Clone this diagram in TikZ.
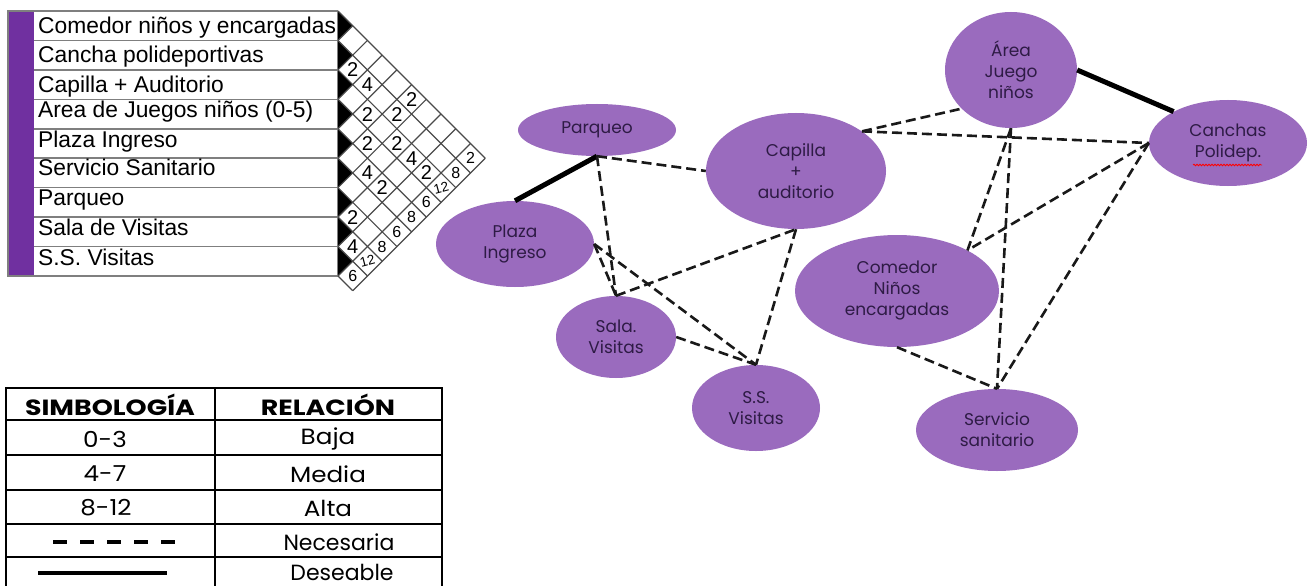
\documentclass[tikz,border=0pt]{standalone}
\usepackage{fontspec}
\setmainfont{Poppins}
\newfontfamily\arialf{Liberation Sans}
\usetikzlibrary{shapes.geometric,decorations.pathmorphing}
\definecolor{ellfill}{HTML}{9A6BBE}
\definecolor{elltext}{HTML}{2E1B45}
\definecolor{barpurple}{HTML}{7030A0}
\definecolor{gridgray}{HTML}{4A4A4A}
\definecolor{tabgray}{HTML}{7F7F7F}
\begin{document}
\begin{tikzpicture}[x=1bp,y=-1bp,
  area/.style={ellipse, fill=ellfill, draw=none, inner sep=0pt, align=center, text=elltext,
    font=\fontsize{17bp}{21bp}\selectfont},
  nec/.style={draw=black!90, line width=2.6bp, dash pattern=on 10bp off 5bp},
  des/.style={draw=black, line width=5bp},
  rowlabel/.style={anchor=base west, inner sep=0pt, font=\arialf\fontsize{22.8bp}{27bp}\selectfont},
  gridline/.style={draw=gridgray, line width=1.2bp},
  bignum/.style={inner sep=0pt, font=\arialf\fontsize{20bp}{20bp}\selectfont},
  smallnum/.style={inner sep=0pt, font=\arialf\fontsize{16bp}{16bp}\selectfont},
  tinynum/.style={inner sep=0pt, font=\arialf\fontsize{13.5bp}{13.5bp}\selectfont},
  tabline/.style={draw=black, line width=2bp},
  headtxt/.style={inner sep=0pt, font=\bfseries\fontsize{22bp}{24bp}\selectfont},
  celltxt/.style={inner sep=0pt, font=\fontsize{22bp}{24bp}\selectfont},
]
\useasboundingbox (0,0) rectangle (1309,586);
\fill[white] (0,0) rectangle (1309,586);

% ---------------- interaction matrix ----------------
\fill[white] (8,11) rectangle (338,276);
\fill[barpurple] (9,11) rectangle (34,276);
\foreach \yy in {40.4,69.9,99.3,128.8,158.2,187.6,217.1,246.5}
  \draw[draw=tabgray, line width=1.5bp] (34,\yy) -- (338,\yy);
\draw[draw=tabgray, line width=2bp] (338,11) -- (8,11) -- (8,276) -- (338,276);
\draw[draw=tabgray, line width=1.5bp] (338,11) -- (338,276);

\node[rowlabel] (r1) at (38,34) {Comedor niños y encargadas};
\node[rowlabel] (r2) at (38,63) {Cancha polideportivas};
\node[rowlabel] (r3) at (38,93) {Capilla + Auditorio};
\node[rowlabel] (r4) at (38,118) {Area de Juegos niños (0-5)};
\node[rowlabel] (r5) at (38,148) {Plaza Ingreso};
\node[rowlabel] (r6) at (38,176) {Servicio Sanitario};
\node[rowlabel] (r7) at (38,205) {Parqueo};
\node[rowlabel] (r8) at (38,235) {Sala de Visitas};
\node[rowlabel] (r9) at (38,265) {S.S. Visitas};

\def\u{14.72}
\begin{scope}[shift={(338,11)}]
  \foreach \k in {1,...,9}
    \fill[black] (0,{2*\u*(\k-1)}) -- (\u,{2*\u*\k-\u}) -- (0,{2*\u*\k}) -- cycle;
  \foreach \m in {0,...,9}
    \draw[gridline] (0,{2*\u*\m}) -- ({\u*(10-\m)},{\u*(10+\m)});
  \foreach \n in {1,...,9}
    \draw[gridline] (0,{2*\u*\n}) -- ({\u*\n},{\u*\n});
  \draw[gridline] (\u,{19*\u}) -- ({10*\u},{10*\u});
  \foreach \i/\j/\v in {2/3/2,2/4/4,3/5/2,2/6/2,1/6/2,4/6/2,3/7/2,3/8/4,5/7/4,5/8/2,3/9/2,7/8/2,8/9/4}
    \node[bignum] (n\i-\j) at ({\u*(\j-\i)},{\u*(\i+\j-1)}) {\v};
  \foreach \i/\j/\v in {1/10/2,2/10/8,4/10/6,5/10/8,6/10/6,7/10/8,9/10/6}
    \node[smallnum] (n\i-\j) at ({\u*(\j-\i)},{\u*(\i+\j-1)}) {\v};
  \foreach \i/\j in {3/10,8/10}
    \node[tinynum, rotate=15] (n\i-\j) at ({\u*(\j-\i)},{\u*(\i+\j-1)}) {12};
\end{scope}

% ---------------- legend table ----------------
\draw[tabline] (6,600) -- (6,388) -- (442,388) -- (442,600);
\draw[tabline] (215,388) -- (215,600);
\foreach \yy in {420,455,490,524,557}
  \draw[tabline] (6,\yy) -- (442,\yy);
\node[headtxt] (h1) at (110,405) {\scalebox{1.22}[1]{SIMBOLOGÍA}};
\node[headtxt] (h2) at (328,405) {\scalebox{1.22}[1]{RELACIÓN}};
\node[celltxt] (a1) at (105,439) {\scalebox{1.12}[1]{0-3}};
\node[celltxt] (b1) at (328,439) {\scalebox{1.12}[1]{Baja}};
\node[celltxt] (a2) at (105,474) {\scalebox{1.12}[1]{4-7}};
\node[celltxt] (b2) at (328,474) {\scalebox{1.12}[1]{Media}};
\node[celltxt] (a3) at (106,508) {\scalebox{1.12}[1]{8-12}};
\node[celltxt] (b3) at (328,508) {\scalebox{1.12}[1]{Alta}};
\coordinate (d1) at (53,542);
\coordinate (d2) at (175,542);
\draw[draw=black, line width=4bp, dash pattern=on 14bp off 13bp] (d1) -- (d2);
\node[celltxt] (b4) at (339,542) {Necesaria};
\coordinate (s1) at (38,573);
\coordinate (s2) at (167,573);
\draw[draw=black, line width=4bp] (s1) -- (s2);
\node[celltxt] (b5) at (342,572) {Deseable};

% ---------------- bubble diagram ----------------
\node[area, minimum width=158bp, minimum height=52bp] (parq) at (597,130) {Parqueo};
\node[area, minimum width=180bp, minimum height=116bp] (cap) at (796,171) {Capilla\\+\\auditorio};
\node[area, minimum width=158bp, minimum height=86bp] (plaza) at (515,244) {Plaza\\Ingreso};
\node[area, minimum width=120bp, minimum height=82bp] (sala) at (616,337) {Sala.\\Visitas};
\node[area, minimum width=128bp, minimum height=86bp] (ss) at (756,408) {S.S.\\Visitas};
\node[area, minimum width=204bp, minimum height=112bp] (com) at (897,291) {Comedor\\Niños\\encargadas};
\node[area, minimum width=162bp, minimum height=82bp] (ser) at (997,430) {Servicio\\sanitario};
\node[area, minimum width=132bp, minimum height=116bp] (are) at (1011,70) {Área\\Juego\\niños};
\node[area, minimum width=158bp, minimum height=86bp] (can) at (1228,143) {Canchas\\Polidep.};
\draw[red, line width=0.8bp, decorate, decoration={snake, amplitude=0.8bp, segment length=3bp}]
  ([xshift=-35bp,yshift=-22bp]can.center) -- ([xshift=34bp,yshift=-22bp]can.center);

\draw[des] (parq.south) -- (plaza.north);
\draw[des] (are.east) -- (can.150);

\draw[nec] (parq.south) -- (cap.west);
\draw[nec] (parq.south) -- (sala.north);
\draw[nec] (plaza.east) -- (sala.north);
\draw[nec] (plaza.east) -- (ss.north);
\draw[nec] (sala.east) -- (ss.north);
\draw[nec] (sala.north) -- (cap.south);
\draw[nec] (cap.south) -- (ss.north);
\draw[nec] (cap.31) -- (are.218);
\draw[nec] (cap.31) -- (can.west);
\draw[nec] (are.south) -- (com.30);
\draw[nec] (are.south) -- (ser.north);
\draw[nec] (can.west) -- (com.30);
\draw[nec] (can.west) -- (ser.north);
\draw[nec] (com.south) -- (ser.north);
\end{tikzpicture}
\end{document}
